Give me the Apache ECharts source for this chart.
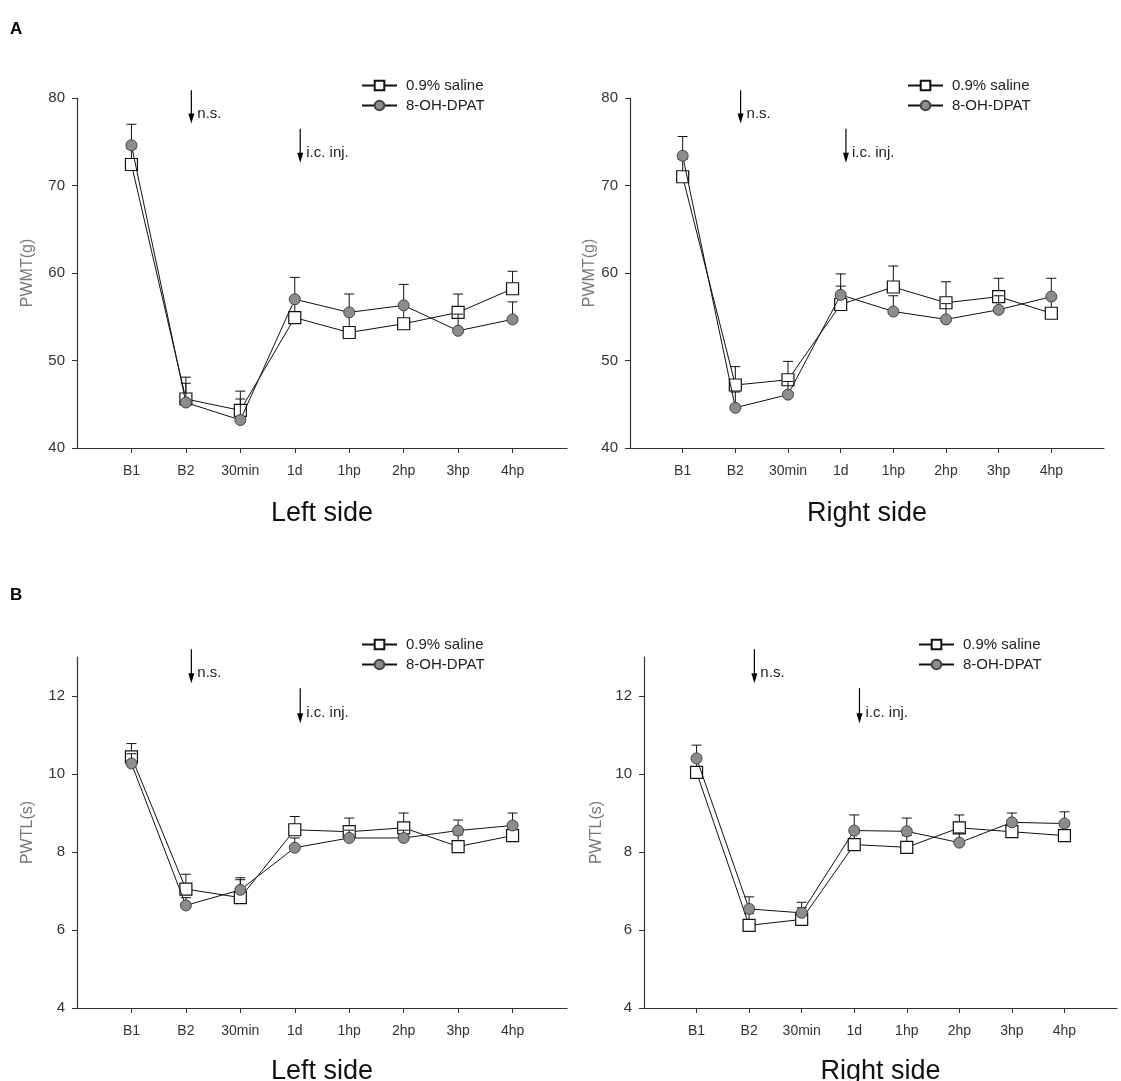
<!DOCTYPE html>
<html>
<head>
<meta charset="utf-8">
<script src="https://cdn.jsdelivr.net/npm/echarts@6/dist/echarts.min.js"></script>
<style>
html,body{margin:0;padding:0;background:#fff;}
#chart{width:1121px;height:1081px;}
</style>
</head>
<body>
<div id="chart"></div>
<script>
// ---------- DATA ----------
const categories = ['B1', 'B2', '30min', '1d', '1hp', '2hp', '3hp', '4hp'];
const seriesNames = ['0.9% saline', '8-OH-DPAT'];

// Panel A (PWMT, g)
const pwmtTicks = [40, 50, 60, 70, 80];
const pwmtLeftSaline   = [72.4, 45.6, 44.3, 54.9, 53.2, 54.2, 55.5, 58.2];
const pwmtLeftSalineSE = [1.8, 2.5, 2.2, 2.0, 2.1, 2.0, 2.1, 2.0];
const pwmtLeftDpat     = [74.6, 45.2, 43.2, 57.0, 55.5, 56.3, 53.4, 54.7];
const pwmtLeftDpatSE   = [2.4, 2.2, 2.4, 2.5, 2.1, 2.4, 1.9, 2.0];

const pwmtRightSaline   = [71.0, 47.2, 47.8, 56.4, 58.4, 56.6, 57.3, 55.4];
const pwmtRightSalineSE = [2.0, 2.1, 2.1, 2.1, 2.4, 2.4, 2.1, 1.8];
const pwmtRightDpat     = [73.4, 44.6, 46.1, 57.5, 55.6, 54.7, 55.8, 57.3];
const pwmtRightDpatSE   = [2.2, 1.8, 1.5, 2.4, 1.8, 1.8, 1.6, 2.1];

// Panel B (PWTL, s)
const pwtlTicks = [4, 6, 8, 10, 12];
const pwtlLeftSaline   = [10.44, 7.05, 6.83, 8.57, 8.52, 8.62, 8.14, 8.42];
const pwtlLeftSalineSE = [0.34, 0.38, 0.51, 0.34, 0.35, 0.38, 0.30, 0.30];
const pwtlLeftDpat     = [10.27, 6.63, 7.03, 8.11, 8.36, 8.36, 8.55, 8.68];
const pwtlLeftDpatSE   = [0.25, 0.20, 0.26, 0.25, 0.20, 0.20, 0.27, 0.32];

const pwtlRightSaline   = [10.04, 6.12, 6.27, 8.19, 8.12, 8.62, 8.52, 8.42];
const pwtlRightSalineSE = [0.30, 0.30, 0.30, 0.30, 0.30, 0.33, 0.30, 0.25];
const pwtlRightDpat     = [10.40, 6.54, 6.44, 8.55, 8.53, 8.24, 8.76, 8.73];
const pwtlRightDpatSE   = [0.34, 0.31, 0.27, 0.40, 0.34, 0.25, 0.24, 0.30];

// Annotations (arrows)
const annotX = [2.1, 4.1];
const annotText = ['n.s.', 'i.c. inj.'];
const pwmtArrowTop = [80.9, 76.5];
const pwmtArrowBottom = [77.1, 72.6];
const pwtlArrowTop = [13.2, 12.2];
const pwtlArrowBottom = [12.33, 11.3];

// ---------- CHART ----------
const FONT = 'Liberation Sans, Arial, sans-serif';
const chart = echarts.init(document.getElementById('chart'), null, {renderer: 'canvas'});

const grids = [
  {left: 77,  top: 98,  width: 490, height: 350, outerBoundsMode: 'none', containLabel: false},
  {left: 630, top: 98,  width: 474, height: 350, outerBoundsMode: 'none', containLabel: false},
  {left: 77,  top: 657, width: 490, height: 351, outerBoundsMode: 'none', containLabel: false},
  {left: 644, top: 657, width: 473, height: 351, outerBoundsMode: 'none', containLabel: false}
];

const catPositions = categories.map((c, i) => i + 1);

function xAxis(gi, name, gap) {
  return {
    type: 'value', gridIndex: gi, min: 0, max: 9,
    name: name, nameLocation: 'middle', nameGap: gap,
    nameTextStyle: {fontFamily: FONT, fontSize: 27, color: '#111'},
    axisLine: {show: true, lineStyle: {color: '#333', width: 1.2}},
    axisTick: {show: true, length: 5, customValues: catPositions, lineStyle: {color: '#333'}},
    axisLabel: {customValues: catPositions, margin: 16, fontFamily: FONT, fontSize: 14, color: '#333',
      formatter: v => categories[Math.round(v) - 1] || ''},
    splitLine: {show: false}
  };
}

function yAxis(gi, min, max, ticks, name, gap) {
  return {
    type: 'value', gridIndex: gi, min: min, max: max,
    name: name, nameLocation: 'middle', nameGap: gap,
    nameTextStyle: {fontFamily: FONT, fontSize: 16, color: '#777'},
    axisLine: {show: true, lineStyle: {color: '#333', width: 1.2}},
    axisTick: {show: true, length: 5, customValues: ticks, lineStyle: {color: '#333'}},
    axisLabel: {customValues: ticks, margin: 12, fontFamily: FONT, fontSize: 15, color: '#333'},
    splitLine: {show: false}
  };
}

function errorSeries(gi, vals, se, z) {
  return {
    type: 'custom', xAxisIndex: gi, yAxisIndex: gi, z: z, silent: true,
    encode: {x: 0, y: [1, 2]},
    data: vals.map((v, i) => [catPositions[i], v, v + se[i]]),
    renderItem: function (params, api) {
      const x = api.value(0);
      const p0 = api.coord([x, api.value(1)]);
      const p1 = api.coord([x, api.value(2)]);
      const st = {stroke: '#111', lineWidth: 1};
      return {type: 'group', children: [
        {type: 'line', shape: {x1: p0[0], y1: p0[1], x2: p1[0], y2: p1[1]}, style: st},
        {type: 'line', shape: {x1: p1[0] - 5, y1: p1[1], x2: p1[0] + 5, y2: p1[1]}, style: st}
      ]};
    }
  };
}

function lineSeries(gi, name, vals, isSaline, z) {
  return {
    type: 'line', name: name, xAxisIndex: gi, yAxisIndex: gi, z: z,
    data: vals.map((v, i) => [catPositions[i], v]),
    symbol: isSaline ? 'rect' : 'circle',
    symbolSize: isSaline ? 12 : 11,
    lineStyle: {color: '#111', width: 1},
    itemStyle: isSaline ? {color: '#fff', borderColor: '#111', borderWidth: 1.2}
                        : {color: '#8c8c8c', borderColor: '#444', borderWidth: 1},
    animation: false
  };
}

function annotSeries(gi, tops, bottoms) {
  return {
    type: 'custom', xAxisIndex: gi, yAxisIndex: gi, z: 5, silent: true, clip: false,
    encode: {x: 0, y: [1, 2]},
    data: annotX.map((x, i) => [x, tops[i], bottoms[i]]),
    renderItem: function (params, api) {
      const x = api.value(0);
      const p0 = api.coord([x, api.value(1)]);
      const p1 = api.coord([x, api.value(2)]);
      return {type: 'group', children: [
        {type: 'line', shape: {x1: p0[0], y1: p0[1], x2: p1[0], y2: p1[1] - 8}, style: {stroke: '#000', lineWidth: 1.2}},
        {type: 'polygon', shape: {points: [[p1[0] - 3, p1[1] - 10], [p1[0] + 3, p1[1] - 10], [p1[0], p1[1]]]}, style: {fill: '#000'}},
        {type: 'text', x: p1[0] + 6, y: p1[1] - 10,
          style: {text: annotText[params.dataIndex], fill: '#222', font: '15px ' + FONT, textVerticalAlign: 'middle', textAlign: 'left'}}
      ]};
    }
  };
}

function panelSeries(gi, sal, salSE, dp, dpSE, tops, bottoms) {
  return [
    errorSeries(gi, sal, salSE, 1),
    lineSeries(gi, seriesNames[0], sal, true, 2),
    errorSeries(gi, dp, dpSE, 3),
    lineSeries(gi, seriesNames[1], dp, false, 4),
    annotSeries(gi, tops, bottoms)
  ];
}

function legend(left, top) {
  return {
    left: left, top: top, orient: 'vertical', itemWidth: 35, itemHeight: 12, itemGap: 5,
    data: seriesNames, selectedMode: false,
    textStyle: {fontFamily: FONT, fontSize: 15, color: '#222', padding: [0, 0, 0, 4]}
  };
}

const option = {
  backgroundColor: '#fff',
  animation: false,
  grid: grids,
  xAxis: [xAxis(0, 'Left side', 52), xAxis(1, 'Right side', 52), xAxis(2, 'Left side', 50), xAxis(3, 'Right side', 50)],
  yAxis: [
    yAxis(0, 40, 80, pwmtTicks, 'PWMT(g)', 41),
    yAxis(1, 40, 80, pwmtTicks, 'PWMT(g)', 31),
    yAxis(2, 4, 13, pwtlTicks, 'PWTL(s)', 41),
    yAxis(3, 4, 13, pwtlTicks, 'PWTL(s)', 39)
  ],
  legend: [legend(356, 73), legend(902, 73), legend(356, 632), legend(913, 632)],
  graphic: [
    {type: 'text', left: 10, top: 21, style: {text: 'A', font: 'bold 17px ' + FONT, fill: '#000'}},
    {type: 'text', left: 10, top: 587, style: {text: 'B', font: 'bold 17px ' + FONT, fill: '#000'}}
  ],
  series: [].concat(
    panelSeries(0, pwmtLeftSaline, pwmtLeftSalineSE, pwmtLeftDpat, pwmtLeftDpatSE, pwmtArrowTop, pwmtArrowBottom),
    panelSeries(1, pwmtRightSaline, pwmtRightSalineSE, pwmtRightDpat, pwmtRightDpatSE, pwmtArrowTop, pwmtArrowBottom),
    panelSeries(2, pwtlLeftSaline, pwtlLeftSalineSE, pwtlLeftDpat, pwtlLeftDpatSE, pwtlArrowTop, pwtlArrowBottom),
    panelSeries(3, pwtlRightSaline, pwtlRightSalineSE, pwtlRightDpat, pwtlRightDpatSE, pwtlArrowTop, pwtlArrowBottom)
  )
};
chart.setOption(option);
</script>
</body>
</html>
